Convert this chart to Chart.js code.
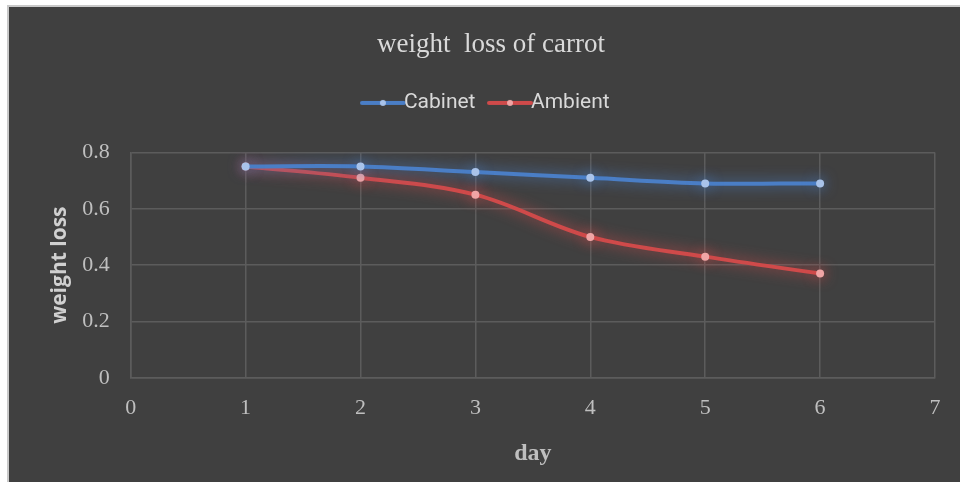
<!DOCTYPE html>
<html>
<head>
<meta charset="utf-8">
<script src="https://cdn.jsdelivr.net/npm/chart.js@4/dist/chart.umd.min.js"></script>
<style>
  html, body { margin: 0; padding: 0; background: #ffffff; }
  #frame {
    position: absolute; left: 7px; top: 5px; width: 953px; height: 477px;
    background: #c9c9c9;
  }
  #wrap {
    position: absolute; left: 9px; top: 7px; width: 951px; height: 475px;
    background: #404040;
  }
</style>
</head>
<body>
<div id="frame"></div>
<div id="wrap"><canvas id="lossChart"></canvas></div>
<script>
const days = [1, 2, 3, 4, 5, 6];
const cabinetValues = [0.75, 0.75, 0.73, 0.71, 0.69, 0.69];
const ambientValues = [0.75, 0.71, 0.65, 0.50, 0.43, 0.37];
const seriesNames = ["Cabinet", "Ambient"];

const blue = "#4a7ec6";
const red = "#cf4a4a";

// little line-with-dot images for the legend
function legendIcon(lineColor, dotColor) {
    const c = document.createElement("canvas");
    c.width = 46; c.height = 10;
    const g = c.getContext("2d");
    g.strokeStyle = lineColor;
    g.lineWidth = 4;
    g.lineCap = "round";
    g.beginPath(); g.moveTo(2, 5); g.lineTo(44, 5); g.stroke();
    g.fillStyle = dotColor;
    g.beginPath(); g.arc(23, 5, 3, 0, Math.PI * 2); g.fill();
    return c;
}

// soft glow round lines and points, like the Excel style
const glow = {
    id: "glow",
    beforeDatasetDraw(chart, args) {
        const ctx = chart.ctx;
        ctx.save();
        ctx.shadowColor = args.meta.dataset.options.borderColor;
        ctx.shadowBlur = 14;
    },
    afterDatasetDraw(chart) {
        chart.ctx.restore();
    }
};

// extra room under the legend
const legendGap = {
    id: "legendGap",
    beforeInit(chart) {
        const fit = chart.legend.fit;
        chart.legend.fit = function () {
            fit.call(this);
            this.height += 29;
        };
    }
};

const ctx = document.getElementById("lossChart").getContext("2d");
new Chart(ctx, {
    type: "line",
    data: {
        datasets: [
            {
                label: seriesNames[0],
                data: days.map((d, i) => ({ x: d, y: cabinetValues[i] })),
                borderColor: blue,
                backgroundColor: "#a9c3ea",
                pointBackgroundColor: "#a9c3ea",
                pointBorderWidth: 0,
                pointRadius: 4,
                borderWidth: 4,
                tension: 0.35,
                fill: false
            },
            {
                label: seriesNames[1],
                data: days.map((d, i) => ({ x: d, y: ambientValues[i] })),
                borderColor: red,
                backgroundColor: "#f0a5a5",
                pointBackgroundColor: "#f0a5a5",
                pointBorderWidth: 0,
                pointRadius: 4,
                borderWidth: 4,
                tension: 0.35,
                fill: false
            }
        ]
    },
    options: {
        responsive: true,
        maintainAspectRatio: false,
        animation: false,
        layout: { padding: { left: 38, right: 25, top: 10, bottom: 10 } },
        plugins: {
            title: {
                display: true,
                text: "weight  loss of carrot",
                color: "#d9d9d9",
                font: { family: "Liberation Serif", size: 27, weight: "normal" },
                padding: { top: 12, bottom: 7 }
            },
            legend: {
                position: "top",
                labels: {
                    color: "#d9d9d9",
                    font: { family: "Roboto", size: 21 },
                    usePointStyle: true,
                    padding: 24,
                    generateLabels(chart) {
                        return chart.data.datasets.map((ds, i) => ({
                            text: ds.label,
                            fontColor: "#d9d9d9",
                            pointStyle: legendIcon(ds.borderColor, ds.pointBackgroundColor),
                            datasetIndex: i,
                            lineWidth: 0,
                            hidden: false
                        }));
                    }
                }
            },
            tooltip: { enabled: false }
        },
        scales: {
            x: {
                type: "linear",
                min: 0,
                max: 7,
                ticks: {
                    stepSize: 1,
                    color: "#bfbfbf",
                    padding: 17,
                    font: { family: "Liberation Serif", size: 22 }
                },
                grid: { color: "#5c5c5c", lineWidth: 1.5, drawTicks: false },
                border: { color: "#5c5c5c", width: 1.5 },
                title: {
                    display: true,
                    text: "day",
                    color: "#bfbfbf",
                    font: { family: "Liberation Serif", size: 24, weight: "bold" },
                    padding: { top: 1 }
                }
            },
            y: {
                min: 0,
                max: 0.8,
                ticks: {
                    stepSize: 0.2,
                    color: "#bfbfbf",
                    padding: 21,
                    font: { family: "Liberation Serif", size: 22 }
                },
                grid: { color: "#5c5c5c", lineWidth: 1.5, drawTicks: false },
                border: { color: "#5c5c5c", width: 1.5 },
                title: {
                    display: true,
                    text: "weight loss",
                    color: "#d0d0d0",
                    font: { family: "Open Sans", size: 21, weight: "bold" },
                    padding: { top: 0, bottom: -11 }
                }
            }
        }
    },
    plugins: [glow, legendGap]
});
</script>
</body>
</html>
